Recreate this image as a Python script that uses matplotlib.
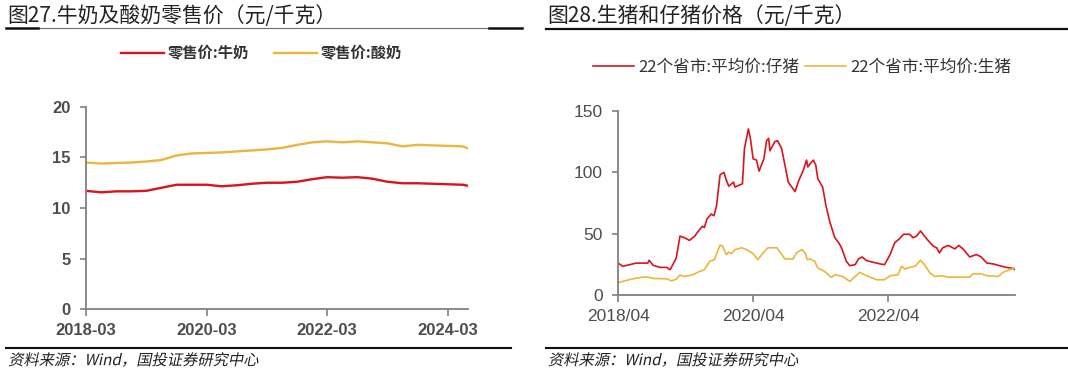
"""
Two-panel retail / hog price chart.
Left: milk vs yoghurt retail price. Right: piglet vs hog price (22 provinces avg).
"""

import pandas as pd
import matplotlib
matplotlib.use("Agg")
import matplotlib.pyplot as plt
import matplotlib.dates as mdates
from matplotlib.lines import Line2D
from matplotlib.patheffects import AbstractPathEffect
from matplotlib.transforms import Affine2D

# --- Config ---
RED = '#d9141e'
YELLOW = '#edb53a'
AXIS_GREY = '#808080'
TICK_GREY = '#4d4d4d'
CJK = ['Noto Sans CJK SC', 'DejaVu Sans']
LATIN = ['Liberation Sans', 'DejaVu Sans']

# --- Left panel data: retail price, yuan/kg ---
milk_dates = ['2018-03-01', '2018-06-01', '2018-09-01', '2018-12-01', '2019-03-01', '2019-06-01',
              '2019-09-01', '2019-12-01', '2020-03-01', '2020-06-01', '2020-09-01', '2020-12-01',
              '2021-03-01', '2021-06-01', '2021-09-01', '2021-12-01', '2022-03-01', '2022-06-01',
              '2022-09-01', '2022-12-01', '2023-03-01', '2023-06-01', '2023-09-01', '2023-12-01',
              '2024-03-01', '2024-06-01', '2024-07-01']
milk = [11.7, 11.55, 11.65, 11.65, 11.7, 12.0, 12.3, 12.3, 12.3, 12.15, 12.25, 12.4, 12.5, 12.5,
        12.6, 12.85, 13.05, 13.0, 13.05, 12.9, 12.6, 12.45, 12.45, 12.4, 12.35, 12.3, 12.2]
yoghurt = [14.5, 14.4, 14.45, 14.5, 14.6, 14.75, 15.2, 15.4, 15.45, 15.5, 15.6, 15.7, 15.8, 15.95,
           16.25, 16.5, 16.6, 16.5, 16.6, 16.5, 16.4, 16.1, 16.25, 16.2, 16.15, 16.1, 15.9]
left_ticks = ['2018-03-01', '2020-03-01', '2022-03-01', '2024-03-01']
left_ticklabels = ['2018-03', '2020-03', '2022-03', '2024-03']

# --- Right panel data: 22 provinces average, yuan/kg ---
piglet_dates = ['2018-04-01', '2018-04-26', '2018-06-02', '2018-07-08', '2018-09-09', '2018-09-16',
                '2018-10-08', '2018-11-14', '2018-12-20', '2019-01-08', '2019-02-10', '2019-03-02',
                '2019-03-27', '2019-04-22', '2019-05-21', '2019-06-09', '2019-07-01', '2019-07-12',
                '2019-07-26', '2019-08-18', '2019-09-02', '2019-09-16', '2019-10-05', '2019-10-26',
                '2019-11-07', '2019-11-21', '2019-12-17', '2019-12-24', '2020-02-03', '2020-02-14',
                '2020-03-06', '2020-03-17', '2020-04-01', '2020-04-19', '2020-05-03', '2020-05-29',
                '2020-06-13', '2020-06-24', '2020-07-01', '2020-07-27', '2020-08-11', '2020-09-02',
                '2020-09-20', '2020-10-08', '2020-11-14', '2020-12-02', '2020-12-28', '2021-01-15',
                '2021-01-22', '2021-02-03', '2021-02-21', '2021-03-06', '2021-03-17', '2021-04-12',
                '2021-04-30', '2021-05-22', '2021-06-17', '2021-07-08', '2021-07-23', '2021-08-18',
                '2021-09-06', '2021-10-05', '2021-10-23', '2021-11-11', '2021-12-06', '2022-01-12',
                '2022-02-18', '2022-03-13', '2022-04-12', '2022-05-07', '2022-06-02', '2022-06-24',
                '2022-07-27', '2022-08-14', '2022-09-02', '2022-09-24', '2022-10-15', '2022-11-14',
                '2022-12-02', '2022-12-20', '2023-01-04', '2023-01-22', '2023-02-21', '2023-03-28',
                '2023-04-19', '2023-05-11', '2023-06-17', '2023-07-23', '2023-08-18', '2023-09-17',
                '2023-10-23', '2023-11-25', '2024-01-01', '2024-02-06', '2024-02-17']
piglet = [26.1, 23.4, 24.7, 26.0, 26.0, 28.3, 24.2, 22.5, 22.5, 20.6, 30.2, 48.0,
          46.7, 44.5, 48.0, 52.0, 56.0, 55.0, 62.0, 66.0, 64.6, 72.8, 98.0, 100.0,
          94.0, 88.7, 92.0, 88.0, 90.7, 119.5, 135.4, 127.7, 111.0, 110.0, 101.0, 111.0,
          126.0, 127.7, 117.6, 125.0, 125.8, 119.5, 105.8, 92.0, 84.3, 92.6, 101.6, 110.0,
          104.4, 107.0, 110.0, 105.8, 94.8, 88.0, 72.8, 59.0, 46.7, 42.6, 38.5, 27.5,
          23.9, 24.7, 29.4, 31.0, 28.0, 26.6, 25.3, 24.7, 33.0, 42.6, 45.9, 49.5,
          49.5, 46.7, 48.0, 52.2, 48.0, 42.6, 39.8, 38.5, 34.3, 38.5, 40.4, 37.6,
          40.4, 37.6, 31.0, 33.0, 31.0, 26.1, 25.3, 23.9, 22.5, 21.7, 20.6]

hog_dates = ['2018-04-01', '2018-05-14', '2018-06-20', '2018-08-14', '2018-09-09', '2018-10-08',
             '2018-12-20', '2019-01-15', '2019-02-10', '2019-03-02', '2019-03-27', '2019-05-10',
             '2019-06-09', '2019-07-12', '2019-08-10', '2019-09-05', '2019-09-20', '2019-10-05',
             '2019-10-19', '2019-11-07', '2019-11-21', '2019-12-06', '2019-12-24', '2020-01-30',
             '2020-02-25', '2020-04-01', '2020-04-26', '2020-05-25', '2020-06-20', '2020-08-07',
             '2020-09-20', '2020-11-03', '2020-11-21', '2020-12-20', '2021-01-08', '2021-01-19',
             '2021-02-03', '2021-02-28', '2021-03-17', '2021-04-23', '2021-05-29', '2021-06-17',
             '2021-07-30', '2021-09-06', '2021-10-05', '2021-10-30', '2021-12-06', '2022-01-30',
             '2022-03-13', '2022-04-12', '2022-05-25', '2022-06-13', '2022-07-01', '2022-07-27',
             '2022-08-25', '2022-09-24', '2022-10-15', '2022-11-14', '2022-12-10', '2023-01-15',
             '2023-02-21', '2023-06-17', '2023-07-05', '2023-08-18', '2023-09-17', '2023-11-18',
             '2023-12-13', '2024-01-19', '2024-02-17']
hog = [10.2, 11.8, 13.2, 14.6, 14.6, 13.5, 13.2, 11.5, 12.9, 16.2, 15.1, 16.5,
       18.7, 20.6, 27.5, 28.8, 34.9, 40.7, 39.8, 33.0, 34.9, 33.8, 37.0, 38.5,
       37.0, 33.8, 28.8, 34.3, 38.5, 38.5, 29.4, 29.4, 34.3, 37.0, 34.3, 28.8,
       29.4, 27.5, 22.0, 19.2, 14.3, 16.5, 15.1, 11.0, 15.1, 18.4, 15.7, 12.4,
       12.4, 15.7, 16.5, 23.4, 21.2, 22.5, 23.4, 28.3, 24.7, 17.9, 15.1, 15.7,
       14.6, 14.6, 17.3, 17.3, 15.7, 15.1, 18.4, 20.6, 22.0]
right_ticks = ['2018-04-01', '2020-04-01', '2022-04-01']
right_ticklabels = ['2018/04', '2020/04', '2022/04']


class Slant(AbstractPathEffect):
    """Fake italic for CJK fonts that ship no oblique face."""

    def __init__(self, deg=12):
        super().__init__()
        self.deg = deg

    def draw_path(self, renderer, gc, tpath, affine, rgbFace=None):
        renderer.draw_path(gc, tpath, Affine2D().skew_deg(self.deg, 0) + affine, rgbFace)


def style_axes(ax, label_size, weight):
    for side in ('top', 'right'):
        ax.spines[side].set_visible(False)
    for side in ('left', 'bottom'):
        ax.spines[side].set_color(AXIS_GREY)
        ax.spines[side].set_linewidth(1.3)
    ax.tick_params(axis='both', direction='out', color=AXIS_GREY, width=1.2,
                   labelcolor=TICK_GREY, labelsize=label_size)
    ax.tick_params(axis='y', length=4, pad=7)
    ax.tick_params(axis='x', length=5, pad=5)
    for lab in ax.get_xticklabels() + ax.get_yticklabels():
        lab.set_family(LATIN)
        lab.set_fontweight(weight)


def frame(fig, x0, x1, title, thin_top):
    """Title, rule under it, bottom rule and source note for one panel."""
    fig.text(x0 + 0.001, 0.958, title, family=CJK, fontsize=15, color='#222222',
             ha='left', va='center')
    if thin_top:
        fig.add_artist(Line2D([x0, x1], [0.926, 0.926], color='#6e6e6e', lw=0.8))
        fig.add_artist(Line2D([x0, x0 + 0.030], [0.926, 0.926], color='#111111', lw=1.8))
        fig.add_artist(Line2D([x1 - 0.031, x1], [0.926, 0.926], color='#111111', lw=1.8))
    else:
        fig.add_artist(Line2D([x0, x1], [0.923, 0.923], color='#111111', lw=1.6))
    fig.add_artist(Line2D([x0, x1 if not thin_top else x1 - 0.010], [0.0794, 0.0794],
                          color='#111111', lw=1.5))
    fig.text(x0 + 0.002, 0.046, '资料来源：Wind，国投证券研究中心', family=CJK, fontsize=11,
             color='#222222', ha='left', va='center', path_effects=[Slant(12)])


def main():
    fig = plt.figure(figsize=(10.68, 3.78), dpi=100)
    fig.patch.set_facecolor('white')

    # --- Left: milk / yoghurt ---
    ax1 = fig.add_axes([0.0805, 0.1825, 0.3575, 0.5345])
    d1 = pd.to_datetime(milk_dates)
    ax1.plot(d1, milk, color=RED, lw=1.7, label='零售价:牛奶')
    ax1.plot(d1, yoghurt, color=YELLOW, lw=1.7, label='零售价:酸奶')
    ax1.set_ylim(0, 20)
    ax1.set_yticks([0, 5, 10, 15, 20])
    ax1.set_xlim(pd.Timestamp('2018-03-01'), pd.Timestamp('2024-07-01'))
    ax1.set_xticks(pd.to_datetime(left_ticks))
    ax1.set_xticklabels(left_ticklabels)
    style_axes(ax1, 12, 'bold')
    ax1.legend(loc='center', bbox_to_anchor=(0.2449, 0.86), bbox_transform=fig.transFigure,
               ncol=2, frameon=False, handlelength=2.8, handletextpad=0.25, columnspacing=1.6,
               prop={'family': CJK, 'size': 11, 'weight': 'bold'}, labelcolor='#333333')

    # --- Right: piglet / hog ---
    ax2 = fig.add_axes([0.5787, 0.2196, 0.3717, 0.4867])
    ax2.plot(pd.to_datetime(piglet_dates), piglet, color=RED, lw=1.2, label='22个省市:平均价:仔猪')
    ax2.plot(pd.to_datetime(hog_dates), hog, color=YELLOW, lw=1.2, label='22个省市:平均价:生猪')
    ax2.set_ylim(0, 150)
    ax2.set_yticks([0, 50, 100, 150])
    ax2.set_xlim(pd.Timestamp('2018-04-01'), pd.Timestamp('2024-02-17'))
    ax2.set_xticks(pd.to_datetime(right_ticks))
    ax2.set_xticklabels(right_ticklabels)
    ax2.xaxis.set_minor_locator(mdates.YearLocator(base=100))
    style_axes(ax2, 12.5, 'normal')
    ax2.legend(loc='center', bbox_to_anchor=(0.751, 0.823), bbox_transform=fig.transFigure,
               ncol=2, frameon=False, handlelength=2.5, handletextpad=0.25, columnspacing=0.3,
               prop={'family': CJK, 'size': 12}, labelcolor='#333333')

    frame(fig, 0.0056, 0.4888, '图27.牛奶及酸奶零售价（元/千克）', thin_top=True)
    frame(fig, 0.511, 1.0, '图28.生猪和仔猪价格（元/千克）', thin_top=False)

    fig.savefig('out.png', dpi=100, facecolor='white')
    plt.close(fig)


if __name__ == '__main__':
    main()
